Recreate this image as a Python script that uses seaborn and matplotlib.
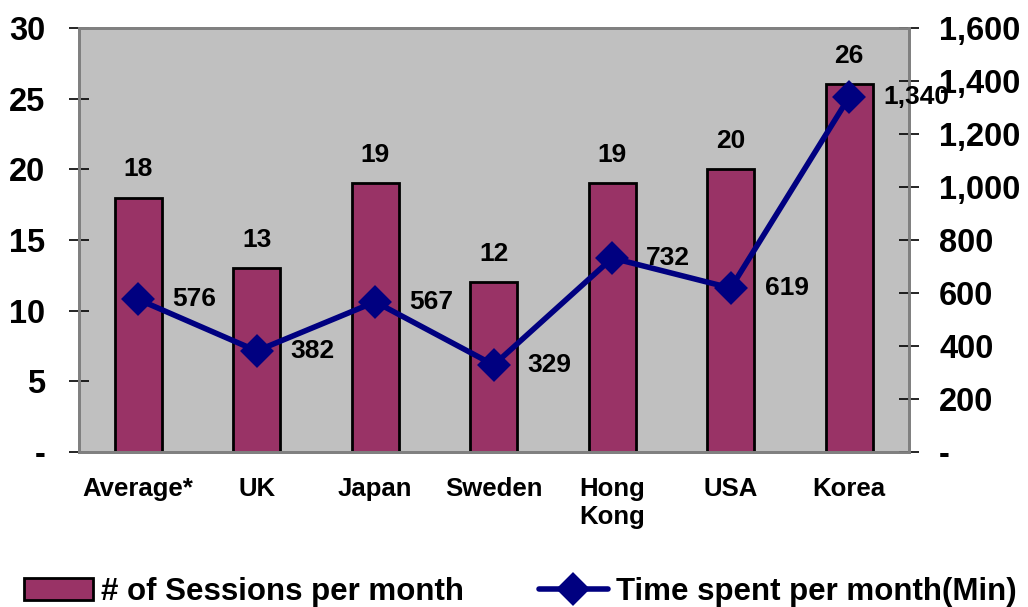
import matplotlib
matplotlib.use("Agg")
import matplotlib.pyplot as plt
import seaborn as sns
import pandas as pd
from matplotlib.ticker import FuncFormatter, FixedLocator

categories = ["Average*", "UK", "Japan", "Sweden", "Hong\nKong", "USA", "Korea"]
sessions = [18, 13, 19, 12, 19, 20, 26]
time_spent = [576, 382, 567, 329, 732, 619, 1340]
left_ticks = [0, 5, 10, 15, 20, 25, 30]
right_ticks = [0, 200, 400, 600, 800, 1000, 1200, 1400, 1600]

sns.set_style("white")
plt.rcParams["font.family"] = ["Liberation Sans", "DejaVu Sans"]
plt.rcParams["font.weight"] = "bold"
for k in ("text.color", "axes.labelcolor", "xtick.color", "ytick.color"):
    plt.rcParams[k] = "black"

df = pd.DataFrame({"cat": categories, "sessions": sessions, "time": time_spent})

fig = plt.figure(figsize=(10.28, 6.07), dpi=100)
ax = fig.add_axes([0.0768, 0.255, 0.807, 0.699])
ax.set_facecolor("#C0C0C0")

sns.barplot(data=df, x="cat", y="sessions", ax=ax, color="#993366",
            saturation=1, width=0.4, edgecolor="black", linewidth=2,
            label="# of Sessions per month")
ax.set_ylim(0, 30)
ax.set_xlim(-0.5, len(categories) - 0.5)
ax.set_xlabel("")
ax.set_ylabel("")
ax.set_yticks(left_ticks)
ax.yaxis.set_major_formatter(FuncFormatter(lambda v, p: "-" if v == 0 else f"{int(v)}"))
ax.tick_params(axis="y", direction="inout", length=14, width=1.2, labelsize=23.5, pad=17)
ax.tick_params(axis="x", length=0, labelsize=18.5, pad=18)
ax.xaxis.set_minor_locator(FixedLocator([i - 0.5 for i in range(len(categories) + 1)]))
ax.tick_params(axis="x", which="minor", direction="inout", length=16, width=1.2)
for lab in ax.get_xticklabels():
    lab.set_fontweight("bold")
    lab.set_verticalalignment("top")
for lab in ax.get_yticklabels():
    lab.set_fontweight("bold")

for c in ax.containers:
    ax.bar_label(c, padding=12, fontsize=19, fontweight="bold")

ax2 = ax.twinx()
sns.pointplot(data=df, x="cat", y="time", ax=ax2, color="#000080",
              markers="D", markersize=14, linewidth=4,
              label="Time spent per month(Min)")
ax2.set_ylim(0, 1600)
ax2.set_ylabel("")
ax2.set_yticks(right_ticks)
ax2.yaxis.set_major_formatter(FuncFormatter(lambda v, p: "-" if v == 0 else f"{int(v):,}"))
ax2.tick_params(axis="y", direction="inout", length=14, width=1.2, labelsize=23.5, pad=15)
for lab in ax2.get_yticklabels():
    lab.set_fontweight("bold")

for i, v in enumerate(time_spent):
    ax2.annotate(f"{v:,}", (i, v), xytext=(24.5, 0), textcoords="offset points",
                 ha="left", va="center", fontsize=19, fontweight="bold")

for a in (ax, ax2):
    for s in a.spines.values():
        s.set_color("#808080")
        s.set_linewidth(2)

h1, l1 = ax.get_legend_handles_labels()
h2, l2 = ax2.get_legend_handles_labels()
if ax2.get_legend():
    ax2.get_legend().remove()
if ax.get_legend():
    ax.get_legend().remove()
fig.legend(h1[:1] + h2[:1], [l1[0], l2[0]], loc="center left", ncol=2,
           bbox_to_anchor=(24 / 1028, 1 - 592 / 607), frameon=False,
           borderpad=0, borderaxespad=0,
           prop={"size": 22.5, "weight": "bold"}, handlelength=2.2,
           handletextpad=0.26, columnspacing=2.4)

fig.savefig("out.png", dpi=100)
